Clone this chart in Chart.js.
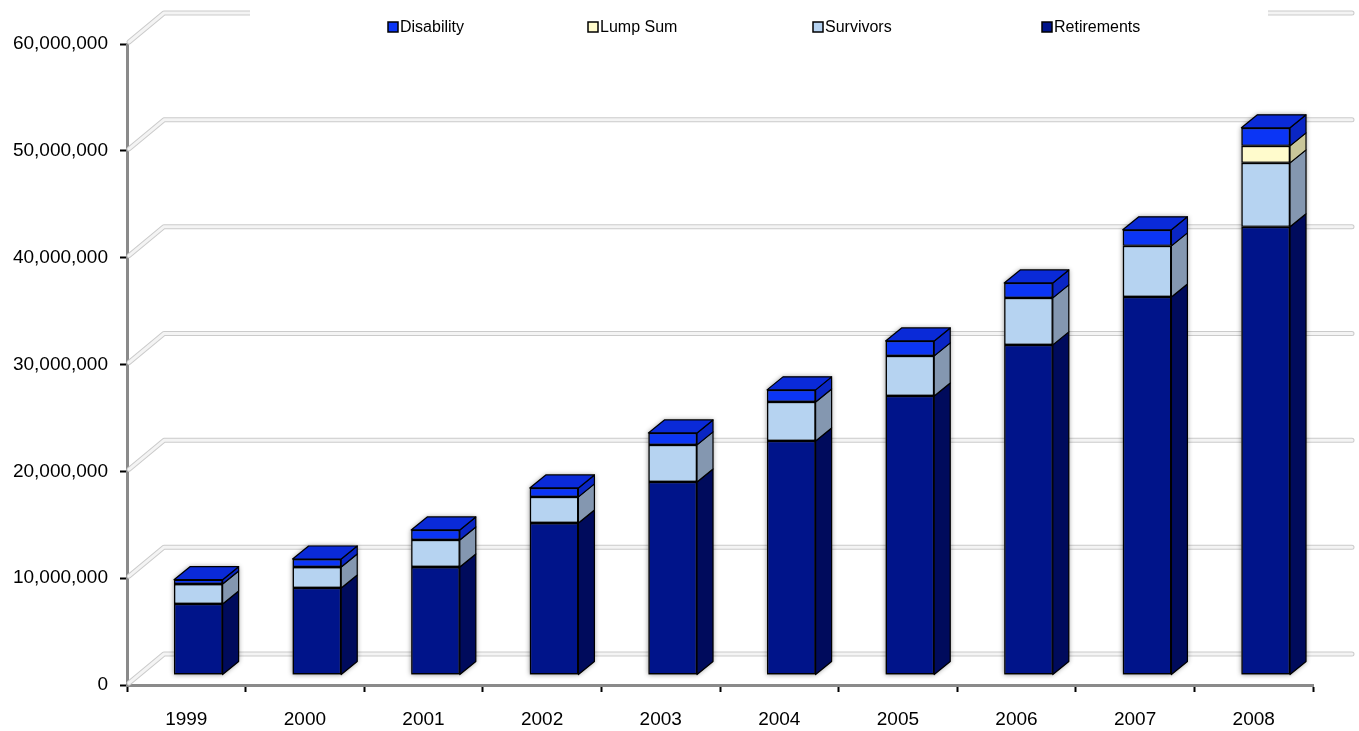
<!DOCTYPE html>
<html>
<head>
<meta charset="utf-8">
<script src="https://cdn.jsdelivr.net/npm/chart.js@4.4.1/dist/chart.umd.min.js"></script>
<style>
  body { margin: 0; background: #fff; }
  canvas { display: block; }
</style>
</head>
<body>
<canvas id="benefitChart" width="1359" height="731"></canvas>
<script>
// years on the category axis
const years = ['1999', '2000', '2001', '2002', '2003', '2004', '2005', '2006', '2007', '2008'];

// benefit payments by type
const retirements = [6650000, 8150000, 10110000, 14230000, 18070000, 21910000, 26120000, 30900000, 35390000, 41950000];
const survivors = [1870000, 1960000, 2530000, 2440000, 3470000, 3650000, 3750000, 4400000, 4780000, 5990000];
const lumpSum = [0, 0, 0, 0, 0, 0, 0, 0, 0, 1590000];
const disability = [400000, 750000, 940000, 840000, 1120000, 1130000, 1400000, 1400000, 1500000, 1690000];

// value axis
const yTicks = [0, 10000000, 20000000, 30000000, 40000000, 50000000, 60000000];

Chart.defaults.font.family = "'Liberation Sans', Arial, sans-serif";
Chart.defaults.color = '#000';

// 3D look: back wall offset, bar offset inside the depth, bar depth
const wall = { dx: 37, dy: -31 };
const barShift = { dx: 12, dy: -10 };
const barDepth = { dx: 16, dy: -13 };

// back wall gridlines + shadow behind the bars, then side and top faces after
const threeD = {
    id: 'threeD',
    beforeDatasetsDraw(chart) {
        const ctx = chart.ctx;
        const area = chart.chartArea;
        const yScale = chart.scales.y;

        ctx.save();
        ctx.lineJoin = 'round';
        ctx.lineCap = 'round';
        yTicks.forEach(v => {
            const y = yScale.getPixelForValue(v);
            const path = () => {
                ctx.beginPath();
                ctx.moveTo(area.left + 2, y - 2);
                ctx.lineTo(area.left + wall.dx, y + wall.dy);
                ctx.lineTo(area.right + wall.dx + 2, y + wall.dy);
            };
            path();
            ctx.strokeStyle = '#cbcbcb';
            ctx.lineWidth = 5;
            ctx.stroke();
            path();
            ctx.strokeStyle = '#f4f4f4';
            ctx.lineWidth = 3;
            ctx.stroke();
        });
        ctx.restore();

        ctx.save();
        ctx.translate(barShift.dx, barShift.dy);

        // soft shadow under each stacked column
        const metas = chart.getSortedVisibleDatasetMetas();
        years.forEach((_, i) => {
            let top = Infinity, bottom = -Infinity, left = 0, right = 0;
            metas.forEach(meta => {
                const el = meta.data[i];
                const p = el.getProps(['x', 'y', 'base', 'width'], true);
                top = Math.min(top, p.y, p.base);
                bottom = Math.max(bottom, p.y, p.base);
                left = p.x - p.width / 2;
                right = p.x + p.width / 2;
            });
            ctx.save();
            ctx.shadowColor = 'rgba(0,0,0,0.45)';
            ctx.shadowBlur = 5;
            ctx.fillStyle = '#666';
            ctx.beginPath();
            ctx.moveTo(left, bottom);
            ctx.lineTo(left, top);
            ctx.lineTo(left + barDepth.dx, top + barDepth.dy);
            ctx.lineTo(right + barDepth.dx, top + barDepth.dy);
            ctx.lineTo(right + barDepth.dx, bottom + barDepth.dy);
            ctx.lineTo(right, bottom);
            ctx.closePath();
            ctx.fill();
            ctx.restore();
        });
    },
    afterDatasetsDraw(chart) {
        const ctx = chart.ctx;
        const metas = chart.getSortedVisibleDatasetMetas();
        ctx.lineWidth = 1.2;
        ctx.strokeStyle = '#000';
        ctx.lineJoin = 'round';

        years.forEach((_, i) => {
            let topFace = null;
            metas.forEach(meta => {
                const ds = chart.data.datasets[meta.index];
                const p = meta.data[i].getProps(['x', 'y', 'base', 'width'], true);
                const top = Math.min(p.y, p.base);
                const bottom = Math.max(p.y, p.base);
                if (bottom - top < 0.5) return;
                const right = p.x + p.width / 2;
                ctx.beginPath();
                ctx.moveTo(right, top);
                ctx.lineTo(right + barDepth.dx, top + barDepth.dy);
                ctx.lineTo(right + barDepth.dx, bottom + barDepth.dy);
                ctx.lineTo(right, bottom);
                ctx.closePath();
                ctx.fillStyle = ds.sideColor;
                ctx.fill();
                ctx.stroke();
                topFace = { left: p.x - p.width / 2, right, top, color: ds.topColor };
            });
            if (topFace) {
                const t = topFace;
                ctx.beginPath();
                ctx.moveTo(t.left, t.top);
                ctx.lineTo(t.left + barDepth.dx, t.top + barDepth.dy);
                ctx.lineTo(t.right + barDepth.dx, t.top + barDepth.dy);
                ctx.lineTo(t.right, t.top);
                ctx.closePath();
                ctx.fillStyle = t.color;
                ctx.fill();
                ctx.stroke();
            }
        });
        ctx.restore();
    }
};

// legend row across the top, on a white strip that hides the back wall line
const topLegend = {
    id: 'topLegend',
    afterDraw(chart, args, opts) {
        const ctx = chart.ctx;
        ctx.save();
        ctx.fillStyle = '#fff';
        ctx.fillRect(opts.stripLeft, 0, opts.stripRight - opts.stripLeft, 40);
        ctx.font = "16px 'Liberation Sans', Arial, sans-serif";
        ctx.textBaseline = 'middle';
        ctx.textAlign = 'left';
        const items = chart.data.datasets.slice().reverse();
        items.forEach((ds, k) => {
            const x = opts.xs[k];
            ctx.fillStyle = ds.backgroundColor;
            ctx.fillRect(x, opts.y - 5, 10, 10);
            ctx.strokeStyle = '#000';
            ctx.lineWidth = 1.5;
            ctx.strokeRect(x, opts.y - 5, 10, 10);
            ctx.fillStyle = '#000';
            ctx.fillText(ds.label, x + 12, opts.y + 1);
        });
        ctx.restore();
    }
};

new Chart(document.getElementById('benefitChart'), {
    type: 'bar',
    data: {
        labels: years,
        datasets: [
            { label: 'Retirements', data: retirements, backgroundColor: '#00148a', sideColor: '#000b5c', topColor: '#0a1fa8' },
            { label: 'Survivors', data: survivors, backgroundColor: '#b6d3f1', sideColor: '#8497b0', topColor: '#c8def5' },
            { label: 'Lump Sum', data: lumpSum, backgroundColor: '#fffbcc', sideColor: '#c9c69a', topColor: '#fffde0' },
            { label: 'Disability', data: disability, backgroundColor: '#0b35f5', sideColor: '#0a26c4', topColor: '#0a2ad8' }
        ]
    },
    options: {
        responsive: false,
        animation: false,
        layout: { padding: { top: 44, right: 46, bottom: 0, left: 0 } },
        datasets: {
            bar: {
                borderColor: '#000',
                borderWidth: 1.4,
                borderSkipped: false,
                barPercentage: 0.41,
                categoryPercentage: 1,
                clip: false
            }
        },
        scales: {
            x: {
                stacked: true,
                afterFit: axis => { axis.height = 46; },
                grid: { offset: true, drawOnChartArea: false, tickColor: '#000', tickLength: 7, tickWidth: 2 },
                border: { color: '#8a8a8a', width: 3 },
                ticks: { padding: 16, font: { size: 19 } }
            },
            y: {
                stacked: true,
                min: 0,
                max: 60000000,
                afterBuildTicks: axis => { axis.ticks = yTicks.map(v => ({ value: v })); },
                afterFit: axis => { axis.width = 127; },
                grid: { drawOnChartArea: false, tickColor: '#000', tickLength: 7, tickWidth: 2 },
                border: { color: '#8a8a8a', width: 3 },
                ticks: {
                    padding: 12,
                    font: { size: 19 },
                    callback: v => Number(v).toLocaleString('en-US')
                }
            }
        },
        plugins: {
            legend: { display: false },
            tooltip: { enabled: false },
            topLegend: { xs: [388, 588, 813, 1042], y: 27, stripLeft: 250, stripRight: 1268 }
        }
    },
    plugins: [threeD, topLegend]
});
</script>
</body>
</html>
